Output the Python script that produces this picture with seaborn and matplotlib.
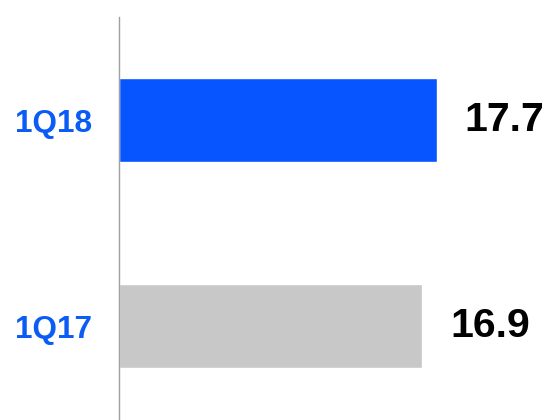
import matplotlib
matplotlib.use("Agg")
import matplotlib.pyplot as plt
import seaborn as sns
import pandas as pd

# Quarterly figures, most recent first
quarters = ["1Q18", "1Q17"]
values = [17.7, 16.9]
bar_colors = ["#0655FF", "#C8C8C8"]

sns.set_style("white")
plt.rcParams["font.family"] = ["Liberation Sans", "DejaVu Sans"]

df = pd.DataFrame({"quarter": quarters, "value": values})

fig = plt.figure(figsize=(5.51, 4.2), dpi=100)
ax = fig.add_axes([119 / 551, 0.0, 1 - 119 / 551, 403 / 420])

sns.barplot(data=df, x="value", y="quarter", hue="quarter", order=quarters,
            palette=dict(zip(quarters, bar_colors)), orient="h", width=0.408,
            legend=False, ax=ax, saturation=1)

ax.set_xlim(0, 24.07)
ax.set_ylim(1.456, -0.5)

for side in ["top", "right", "bottom"]:
    ax.spines[side].set_visible(False)
ax.spines["left"].set_color("#A0A0A0")
ax.spines["left"].set_linewidth(1.0)

ax.set_xticks([])
ax.set_xlabel("")
ax.set_ylabel("")
ax.tick_params(axis="y", length=0, pad=19.5)
ax.set_yticks(range(len(quarters)))
ax.set_yticklabels(quarters, fontsize=22.7, fontweight="bold", color="#0A5CF5")

# value labels at the end of each bar
for i, v in enumerate(values):
    ax.annotate(f"{v:.1f}", xy=(v, i), xytext=(20, 0), textcoords="offset points",
                ha="left", va="center", fontsize=29.5, fontweight="bold", color="black")

fig.savefig("out.png", dpi=100)
